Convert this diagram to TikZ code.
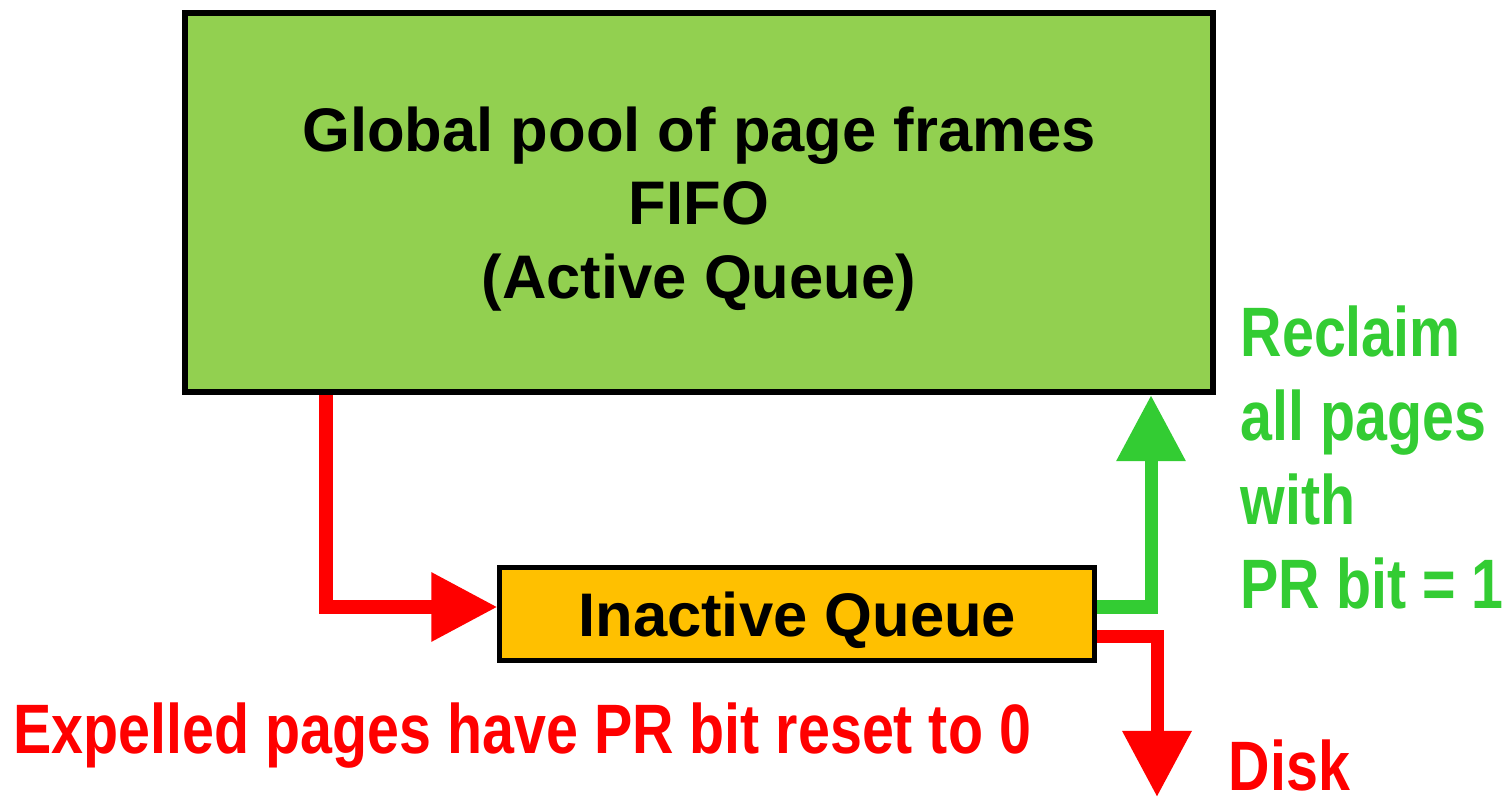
\documentclass[tikz,border=0pt]{standalone}
\usepackage{fontspec}
\setmainfont{Liberation Sans}
\newfontfamily\narrowsans{Liberation Sans}[FakeStretch=0.82]
\usetikzlibrary{arrows.meta}
\definecolor{poolgreen}{HTML}{92D050}
\definecolor{queueorange}{HTML}{FFC000}
\definecolor{reclaimgreen}{HTML}{33CC33}
\definecolor{expelred}{HTML}{FF0000}
\begin{document}
\begin{tikzpicture}[x=0.01cm,y=-0.01cm,
  bigfont/.style={font=\fontsize{17.5}{20.8}\selectfont\bfseries},
  notefont/.style={font=\narrowsans\fontsize{19.9}{23.8}\selectfont\bfseries},
  queuebox/.style={draw=black, inner sep=0pt},
  flow/.style={line width=1.3mm, -{Triangle[length=6.6mm 0 0,width=6.6mm 0 0]}},
  note/.style={notefont, inner sep=0pt, align=left},
]
\useasboundingbox (0,0) rectangle (1505,797);

% queues
\node[queuebox, line width=0.6mm, fill=poolgreen,
      minimum width=10.28cm, minimum height=3.79cm] (pool) at (699,202.5) {};
% multi-line nodes: base anchor sits on the last line
\node[bigfont, align=center, inner sep=0pt, anchor=base] (pooltext) at (699,298)
  {Global pool of page frames\\FIFO\\(Active Queue)};
\node[queuebox, line width=0.5mm, fill=queueorange, bigfont, text depth=0pt,
      minimum width=5.945cm, minimum height=0.92cm] (inact) at (797.25,614) {Inactive Queue};

% connector routing points
\coordinate (downx) at (326,607);
\coordinate (upx) at (1151,607);
\coordinate (diskx) at (1157,636);
\coordinate (diskend) at (1157,797);

% connectors
\draw[flow, expelred] (pool.south -| downx) |- (inact.west |- downx);
\draw[flow, reclaimgreen] (inact.east |- upx) -| (pool.south -| upx);
\draw[flow, expelred] (inact.east |- diskx) -| (diskend);

% labels
\node[note, text=reclaimgreen, anchor=base west] (reclaim) at (1240,608)
  {Reclaim\\all pages\\with\\PR bit = 1};
\node[note, text=expelred, anchor=base west] (expel) at (13,753)
  {Expelled pages have PR bit reset to 0};
\node[note, text=expelred, anchor=base west] (disk) at (1228,790) {Disk};
\end{tikzpicture}
\end{document}
